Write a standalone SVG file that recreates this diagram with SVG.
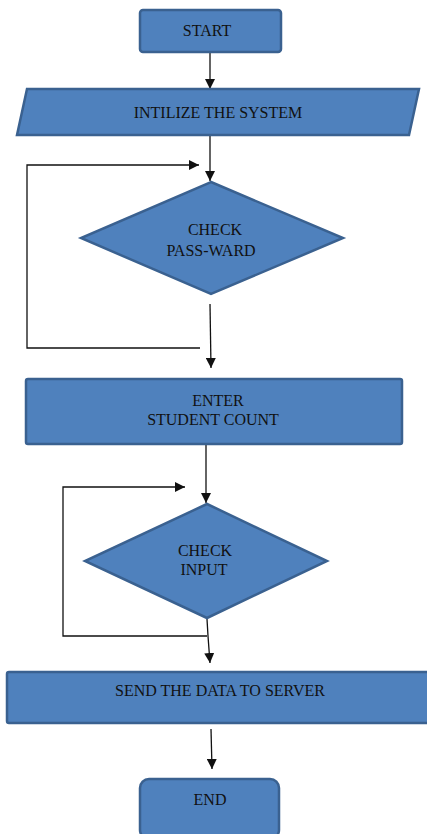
<svg xmlns="http://www.w3.org/2000/svg" width="427" height="834" viewBox="0 0 427 834">
<style>
.n{fill:#4F81BD;stroke:#3A6190;stroke-width:2.5}
.t{font-family:"Liberation Serif","Times New Roman",serif;font-size:16px;fill:#111;text-anchor:middle}
.c{fill:none;stroke:#111;stroke-width:1.3}
</style>
<defs>
<marker id="a" viewBox="0 0 10 10" refX="10" refY="5" markerWidth="10" markerHeight="10" markerUnits="userSpaceOnUse" orient="auto">
<path d="M0,0 L10,5 L0,10 Z" fill="#111"/>
</marker>
</defs>
<rect width="427" height="834" fill="#fff"/>
<g id="connectors">
<line class="c" x1="210" y1="53" x2="210" y2="89" marker-end="url(#a)"/>
<line class="c" x1="210" y1="136" x2="210" y2="181" marker-end="url(#a)"/>
<polyline class="c" points="200,348 27,348 27,165 199,165" marker-end="url(#a)"/>
<line class="c" x1="210" y1="304" x2="211" y2="368" marker-end="url(#a)"/>
<line class="c" x1="206" y1="445" x2="206" y2="503" marker-end="url(#a)"/>
<polyline class="c" points="207,636 63,636 63,487 185,487" marker-end="url(#a)"/>
<polyline class="c" points="207,619 208,636 210,663" marker-end="url(#a)"/>
<line class="c" x1="211" y1="729" x2="212" y2="769" marker-end="url(#a)"/>
</g>
<g id="start">
<rect class="n" x="140" y="10" width="141" height="42" rx="3"/>
<text class="t" x="207" y="36">START</text>
</g>
<g id="init">
<polygon class="n" points="27,89 419,89 409,135 17,135"/>
<text class="t" x="218" y="118">INTILIZE THE SYSTEM</text>
</g>
<g id="check-pass">
<polygon class="n" points="211,182 343,238 211,294 81,238"/>
<text class="t" x="215" y="235">CHECK</text>
<text class="t" x="211" y="256">PASS-WARD</text>
</g>
<g id="enter">
<rect class="n" x="26" y="379" width="376" height="65" rx="2"/>
<text class="t" x="218" y="406">ENTER</text>
<text class="t" x="213" y="425">STUDENT COUNT</text>
</g>
<g id="check-input">
<polygon class="n" points="207,504 327,561 207,618 85,561"/>
<text class="t" x="205" y="556">CHECK</text>
<text class="t" x="204" y="575">INPUT</text>
</g>
<g id="send">
<rect class="n" x="7" y="672" width="430" height="51" rx="2"/>
<text class="t" x="220" y="696">SEND THE DATA TO SERVER</text>
</g>
<g id="end">
<rect class="n" x="140" y="779" width="139" height="60" rx="9"/>
<text class="t" x="210" y="805">END</text>
</g>
</svg>
